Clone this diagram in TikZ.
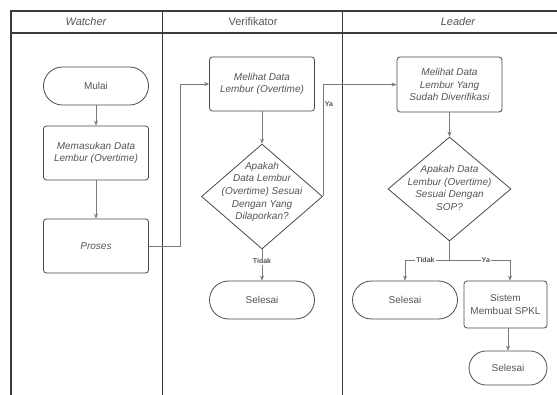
\documentclass[tikz,border=0pt]{standalone}
\usepackage{fontspec}
\setmainfont{Liberation Sans}
\usetikzlibrary{shapes.geometric,arrows.meta}
\definecolor{frameC}{HTML}{3A3A3A}
\definecolor{boxC}{HTML}{4A4A4A}
\definecolor{lineC}{HTML}{7A7A7A}
\definecolor{txtC}{HTML}{555555}
\tikzset{
  lane/.style={draw=frameC,line width=1.1pt},
  proc/.style={draw=boxC,line width=0.8pt,rounded corners=3pt,minimum width=105pt,minimum height=54pt,
    align=center,font=\fontsize{10}{12.8}\selectfont\itshape,text=txtC,inner sep=1pt},
  term/.style={draw=boxC,line width=0.8pt,rounded corners=19pt,minimum width=105pt,minimum height=38pt,
    align=center,font=\fontsize{10}{12.8}\selectfont,text=txtC,inner sep=1pt},
  dec/.style={draw=boxC,line width=0.8pt,diamond,minimum width=121pt,minimum height=105pt,inner sep=0pt},
  dtext/.style={align=center,font=\fontsize{10}{12.6}\selectfont\itshape,text=txtC,inner sep=0pt},
  arr/.style={draw=lineC,line width=0.6pt,-{Stealth[length=5pt,width=4pt]}},
  ln/.style={draw=lineC,line width=0.6pt},
  lbl/.style={font=\fontsize{7}{8}\selectfont\bfseries,text=txtC,fill=white,inner sep=1pt},
  head/.style={font=\fontsize{11}{13}\selectfont,text=txtC}
}
\begin{document}
\begin{tikzpicture}[x=1pt,y=-1pt]
\useasboundingbox (0,0) rectangle (557,395);
% lanes
\draw[lane] (11,395) -- (11,11) -- (557,11);
\draw[lane] (11,33) -- (557,33);
\draw[lane] (162.5,11) -- (162.5,395);
\draw[lane] (342.5,11) -- (342.5,395);
\node[head,font=\fontsize{11}{13}\selectfont\itshape] (hW) at (86,22) {Watcher};
\node[head] (hV) at (253,22) {Verifikator};
\node[head,font=\fontsize{11}{13}\selectfont\itshape] (hL) at (458,22) {Leader};
% Watcher
\node[term] (mulai) at (96,86) {Mulai};
\node[proc] (input) at (96,153) {Memasukan Data\\Lembur (Overtime)};
\node[proc] (proses) at (96,246) {Proses};
% Verifikator
\node[proc] (lihat1) at (262,84) {Melihat Data\\Lembur (Overtime)};
\node[dec] (cek1) at (262,196.5) {};
\node[dtext] (cek1t) at (262,192) {Apakah\\Data Lembur\\(Overtime) Sesuai\\Dengan Yang\\Dilaporkan?};
\node[term] (sel1) at (262,300) {Selesai};
% Leader
\node[proc,minimum height=55pt] (lihat2) at (449.5,84.5) {Melihat Data\\Lembur Yang\\Sudah Diverifikasi};
\node[dec,minimum width=123pt,minimum height=104pt] (cek2) at (449.5,189) {};
\node[dtext] (cek2t) at (449.5,188) {Apakah Data\\Lembur (Overtime)\\Sesuai Dengan\\SOP?};
\node[term] (sel2) at (405,300) {Selesai};
\node[proc,font=\fontsize{10}{12.8}\selectfont,minimum width=83pt,minimum height=47pt] (sis) at (505.5,304.5) {Sistem\\Membuat SPKL};
\node[term,minimum width=78pt,minimum height=34pt,rounded corners=17pt] (sel3) at (508,368) {Selesai};
% connectors
\draw[arr] (mulai.south) -- (input.north);
\draw[arr] (input.south) -- (proses.north);
\draw[arr] (proses.east) -- ++(31,0) |- (lihat1.west);
\draw[arr] (lihat1.south) -- (cek1.north);
\draw[arr] (cek1.east) |- (lihat2.west);
\node[lbl,fill=none] (ya1) at (329,104) {Ya};
\draw[arr] (cek1.south) -- node[lbl,pos=0.38] (t1) {Tidak} (sel1.north);
\draw[arr] (lihat2.south) -- (cek2.north);
\coordinate (br) at (449.5,260);
\draw[ln] (cek2.south) -- (br);
\draw[arr] (br) -| node[lbl,pos=0.27] (t2) {Tidak} (sel2.north);
\draw[arr] (br) -| node[lbl,pos=0.3] (y2) {Ya} ([xshift=4.5pt]sis.north);
\draw[arr] ([xshift=2.5pt]sis.south) -- (sel3.north);
\end{tikzpicture}
\end{document}
